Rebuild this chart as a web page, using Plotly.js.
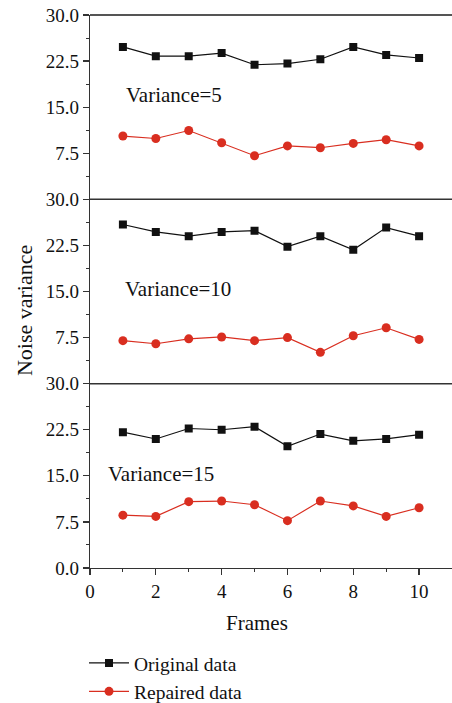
<!DOCTYPE html>
<html>
<head>
<meta charset="utf-8">
<script src="https://cdn.plot.ly/plotly-3.0.1.min.js"></script>
<style>html,body{margin:0;padding:0;background:#fff}#chart{width:452px;height:703px}</style>
</head>
<body>
<div id="chart"></div>
<script>
const frames = [1,2,3,4,5,6,7,8,9,10];
const original5  = [24.8,23.3,23.3,23.8,21.9,22.1,22.8,24.8,23.5,23.0];
const repaired5  = [10.3,9.9,11.2,9.2,7.1,8.7,8.4,9.1,9.7,8.7];
const original10 = [25.9,24.7,24.0,24.7,24.9,22.3,24.0,21.8,25.4,24.0];
const repaired10 = [7.0,6.5,7.3,7.6,7.0,7.5,5.1,7.8,9.1,7.2];
const original15 = [22.1,21.0,22.7,22.5,23.0,19.8,21.8,20.7,21.0,21.7];
const repaired15 = [8.6,8.4,10.8,10.9,10.3,7.7,10.9,10.1,8.4,9.8];
const panelLabels = ['Variance=5','Variance=10','Variance=15'];
const yTickVals = [0,7.5,15,22.5,30];
const yTickTextUpper = ['','7.5','15.0','22.5','30.0'];
const yTickTextBottom = ['0.0','7.5','15.0','22.5','30.0'];
const xTickVals = [0,2,4,6,8,10];

const FONT = 'Liberation Serif, Times New Roman, serif';
const BLACK = '#111111';
const RED = '#d92e20';

const series = [
  {o: original5, r: repaired5, ax: 'y'},
  {o: original10, r: repaired10, ax: 'y2'},
  {o: original15, r: repaired15, ax: 'y3'}
];
const traces = [];
series.forEach((s, i) => {
  traces.push({x: frames, y: s.o, xaxis: 'x', yaxis: s.ax, type: 'scatter', mode: 'lines+markers',
    name: 'Original data', showlegend: i === 0, legendgroup: 'o',
    line: {color: BLACK, width: 1.2}, marker: {symbol: 'square', size: 8, color: BLACK}});
});
series.forEach((s, i) => {
  traces.push({x: frames, y: s.r, xaxis: 'x', yaxis: s.ax, type: 'scatter', mode: 'lines+markers',
    name: 'Repaired data', showlegend: i === 0, legendgroup: 'r',
    line: {color: RED, width: 1.2}, marker: {symbol: 'circle', size: 9, color: RED}});
});

function yAxis(domain, text) {
  return {
    domain: domain, anchor: 'x', range: [0, 30], showgrid: false, zeroline: false,
    showline: true, linecolor: '#333', linewidth: 1.3,
    tickmode: 'array', tickvals: yTickVals, ticktext: text,
    ticks: 'outside', ticklen: 6, tickwidth: 1.2, tickcolor: '#333',
    minor: {dtick: 3.75, tick0: 0, ticks: 'outside', ticklen: 3, tickwidth: 1, tickcolor: '#333'},
    tickfont: {family: FONT, size: 19, color: '#111'}
  };
}

const layout = {
  width: 452, height: 703,
  margin: {l: 90, r: 0, t: 15, b: 135, autoexpand: false},
  paper_bgcolor: '#fff', plot_bgcolor: '#fff',
  font: {family: FONT, color: '#111'},
  showlegend: true,
  legend: {x: (84-90)/362, xanchor: 'left', y: (568-643.8)/553, yanchor: 'top', orientation: 'v',
    itemwidth: 40,
    font: {family: FONT, size: 19.5, color: '#111'}, bgcolor: 'rgba(0,0,0,0)', tracegroupgap: 0},
  xaxis: {
    domain: [0, 1], anchor: 'y3', range: [0, 11], showgrid: false, zeroline: false,
    showline: true, linecolor: '#333', linewidth: 1.3,
    tickmode: 'array', tickvals: xTickVals,
    ticks: 'outside', ticklen: 6, tickwidth: 1.2, tickcolor: '#333',
    minor: {dtick: 1, tick0: 0, ticks: 'outside', ticklen: 3, tickwidth: 1, tickcolor: '#333'},
    tickfont: {family: FONT, size: 19, color: '#111'}
  },
  yaxis: yAxis([2/3, 1], yTickTextUpper),
  yaxis2: yAxis([1/3, 2/3], yTickTextUpper),
  yaxis3: yAxis([0, 1/3], yTickTextBottom),
  shapes: [
    {type: 'line', xref: 'paper', yref: 'paper', x0: 0, x1: 1, y0: 1, y1: 1, line: {color: '#555', width: 1.8}},
    {type: 'line', xref: 'paper', yref: 'paper', x0: 0, x1: 1, y0: 2/3, y1: 2/3, line: {color: '#333', width: 1.5}},
    {type: 'line', xref: 'paper', yref: 'paper', x0: 0, x1: 1, y0: 1/3, y1: 1/3, line: {color: '#333', width: 1.5}}
  ],
  annotations: [
    {text: panelLabels[0], xref: 'x', yref: 'y', x: 1.04, y: 16.95, xanchor: 'left', yanchor: 'middle', showarrow: false, font: {family: FONT, size: 21, color: '#111'}},
    {text: panelLabels[1], xref: 'x', yref: 'y2', x: 1.01, y: 15.4, xanchor: 'left', yanchor: 'middle', showarrow: false, font: {family: FONT, size: 21, color: '#111'}},
    {text: panelLabels[2], xref: 'x', yref: 'y3', x: 0.48, y: 15.3, xanchor: 'left', yanchor: 'middle', showarrow: false, font: {family: FONT, size: 21, color: '#111'}},
    {text: 'Noise variance', xref: 'paper', yref: 'paper', x: -0.182, y: (568-311)/553, textangle: -90, xanchor: 'center', yanchor: 'middle', showarrow: false, font: {family: FONT, size: 22, color: '#111'}},
    {text: 'Frames', xref: 'paper', yref: 'paper', x: (257-90)/362, y: (568-623)/553, xanchor: 'center', yanchor: 'middle', showarrow: false, font: {family: FONT, size: 21, color: '#111'}}
  ]
};

Plotly.newPlot('chart', traces, layout, {staticPlot: true, displayModeBar: false});
</script>
</body>
</html>
